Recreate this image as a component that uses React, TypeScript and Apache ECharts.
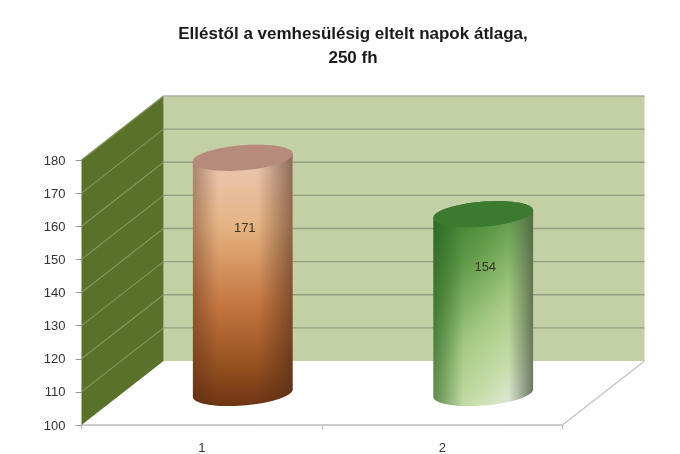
import React, { useEffect, useRef } from "react";
import * as echarts from "echarts";

const categories = ["1", "2"];
const values = [171, 154];
const yTicks = [100, 110, 120, 130, 140, 150, 160, 170, 180];
const titleLines = "Elléstől a vemhesülésig eltelt napok átlaga,\n250 fh";

const DX = 82;
const DY = -64;
const RX = 50;
const RY = 12.5;
const TILT = -4.6;
const ARC_STEPS = 40;

const LG = (x: number, y: number, x2: number, y2: number, stops: [number, string][]) =>
  new echarts.graphic.LinearGradient(x, y, x2, y2, stops.map(([offset, color]) => ({ offset, color })));

const skins = [
  {
    body: () =>
      LG(0, 0, 0, 1, [
        [0, "#d9b0a0"],
        [0.1, "#e9c3aa"],
        [0.3, "#e6b585"],
        [0.62, "#c4753e"],
        [0.85, "#93501f"],
        [1, "#6e3414"],
      ]),
    edge: () =>
      LG(0, 0, 1, 0, [
        [0, "rgba(80,40,25,0.4)"],
        [0.25, "rgba(80,40,25,0)"],
        [0.65, "rgba(80,40,25,0)"],
        [1, "rgba(70,40,25,0.55)"],
      ]),
    cap: "#b78b7c",
  },
  {
    body: () =>
      LG(0.15, 0, 0.7, 1, [
        [0, "#357a2c"],
        [0.3, "#5f9a48"],
        [0.62, "#a6cb84"],
        [0.85, "#c5dca8"],
        [1, "#dce6d0"],
      ]),
    edge: () =>
      LG(0, 0, 1, 0, [
        [0, "rgba(40,95,35,0.6)"],
        [0.3, "rgba(40,95,35,0)"],
        [0.75, "rgba(70,90,60,0)"],
        [1, "rgba(70,85,60,0.75)"],
      ]),
    cap: "#3c7a2f",
  },
];

// Half of a tilted ellipse outline, starting at parameter `from`.
const halfEllipse = (cx: number, cy: number, from: number) => {
  const a = (TILT * Math.PI) / 180;
  const pts: number[][] = [];
  for (let i = 0; i <= ARC_STEPS; i++) {
    const t = from + (Math.PI * i) / ARC_STEPS;
    pts.push([
      cx + RX * Math.cos(t) * Math.cos(a) - RY * Math.sin(t) * Math.sin(a),
      cy + RX * Math.cos(t) * Math.sin(a) + RY * Math.sin(t) * Math.cos(a),
    ]);
  }
  return pts;
};

export default function App() {
  const ref = useRef<HTMLDivElement>(null);
  useEffect(() => {
    const chart = echarts.init(ref.current!, null, { renderer: "svg" });

    const wallItem = (params: any, api: any) => {
      const cs = params.coordSys;
      const l = cs.x;
      const r = cs.x + cs.width;
      const y0 = api.coord([0, yTicks[0]])[1];
      const y1 = api.coord([0, yTicks[yTicks.length - 1]])[1];
      const children: any[] = [
        {
          type: "polygon",
          shape: { points: [[l + DX, y1 + DY], [r + DX, y1 + DY], [r + DX, y0 + DY], [l + DX, y0 + DY]] },
          style: { fill: "#c3cfa4" },
        },
        {
          type: "polygon",
          shape: { points: [[l, y1], [l + DX, y1 + DY], [l + DX, y0 + DY], [l, y0]] },
          style: { fill: "#5a7129" },
        },
        {
          type: "line",
          shape: { x1: r, y1: y0, x2: r + DX, y2: y0 + DY },
          style: { stroke: "#c4c8c0", lineWidth: 1.5 },
        },
      ];
      yTicks.forEach((t, i) => {
        const y = api.coord([0, t])[1];
        if (i > 0) {
          children.push({
            type: "line",
            shape: { x1: l, y1: y, x2: l + DX, y2: y + DY },
            style: { stroke: "#83965f", lineWidth: 1.2 },
          });
          children.push({
            type: "line",
            shape: { x1: l + DX, y1: y + DY, x2: r + DX, y2: y + DY },
            style: { stroke: i === yTicks.length - 1 ? "#a8ac9e" : "#939e80", lineWidth: 1.3 },
          });
        }
      });
      return { type: "group", children };
    };

    const cylItem = (params: any, api: any) => {
      const idx = params.dataIndex;
      const top = api.coord([idx, api.value(1)]);
      const base = api.coord([idx, yTicks[0]]);
      const cx = top[0] + DX / 2;
      const cyT = top[1] + DY / 2;
      const cyB = base[1] + DY / 2;
      const a = (TILT * Math.PI) / 180;
      // Where the tilted outline runs vertically: the cylinder's sides start here.
      const t0 = Math.atan2(-RY * Math.sin(a), RX * Math.cos(a));
      const upper = halfEllipse(cx, cyT, t0 + Math.PI);
      const lower = halfEllipse(cx, cyB, t0);
      const bodyPts = [...upper, ...lower];
      const capPts = [...upper, ...halfEllipse(cx, cyT, t0)];
      const skin = skins[idx];
      return {
        type: "group",
        children: [
          { type: "polygon", shape: { points: bodyPts }, style: { fill: skin.body() } },
          { type: "polygon", shape: { points: bodyPts }, style: { fill: skin.edge() } },
          { type: "polygon", shape: { points: capPts }, style: { fill: skin.cap } },
          {
            type: "text",
            x: cx + 2,
            y: cyT + (cyB - cyT) * 0.295,
            style: {
              text: String(api.value(1)),
              fill: "#3a3320",
              font: "13px 'Liberation Sans', sans-serif",
              align: "center",
              verticalAlign: "middle",
            },
          },
        ],
      };
    };

    chart.setOption({
      animation: false,
      backgroundColor: "#ffffff",
      title: {
        text: titleLines,
        left: 348,
        top: 16,
        textAlign: "center",
        textStyle: {
          fontFamily: "'Liberation Sans', sans-serif",
          fontSize: 17,
          fontWeight: "bold",
          color: "#1a1a1a",
          lineHeight: 24,
        },
      },
      grid: { left: 81.5, top: 160, width: 481, height: 267 },
      xAxis: {
        type: "category",
        data: categories,
        axisLine: { lineStyle: { color: "#bcbcbc", width: 1.5 } },
        axisTick: { show: true, length: 4, lineStyle: { color: "#bcbcbc" } },
        axisLabel: { color: "#333333", fontSize: 13, margin: 16, fontFamily: "'Liberation Sans', sans-serif" },
      },
      yAxis: {
        type: "value",
        min: 100,
        max: 180,
        interval: 10,
        axisLine: { show: false },
        axisTick: { show: true, length: 6, lineStyle: { color: "#999999" } },
        axisLabel: { color: "#333333", fontSize: 13, margin: 16, fontFamily: "'Liberation Sans', sans-serif" },
        splitLine: { show: false },
      },
      series: [
        { type: "custom", silent: true, clip: false, z: 1, data: [[0, 180]], renderItem: wallItem },
        {
          type: "custom",
          silent: true,
          clip: false,
          z: 2,
          data: values.map((v, i) => [i, v]),
          encode: { x: 0, y: 1 },
          renderItem: cylItem,
        },
      ],
    });
    return () => chart.dispose();
  }, []);
  return (
    <div
      ref={ref}
      style={{ position: "fixed", left: 0, top: 0, width: 680, height: 454, filter: "blur(0.7px)" }}
    />
  );
}
